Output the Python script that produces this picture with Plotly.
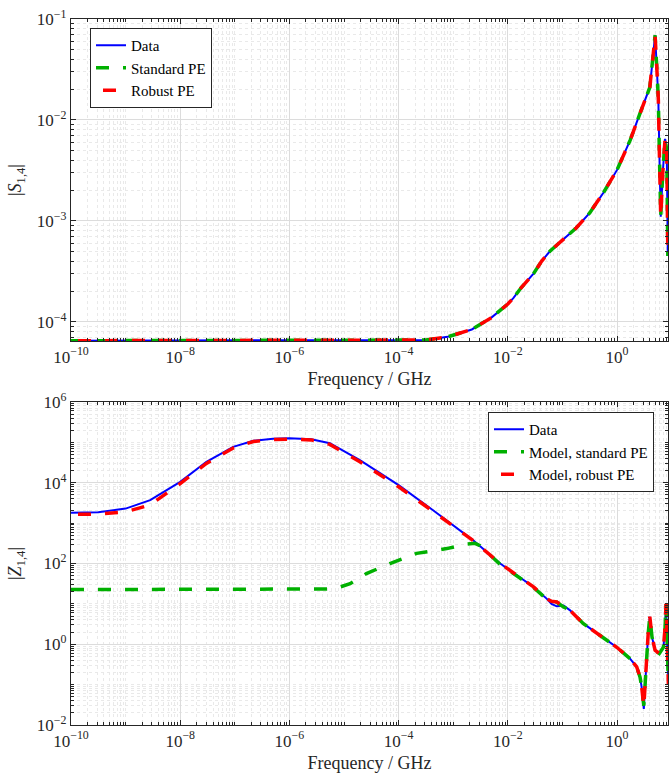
import plotly.graph_objects as go
from plotly.subplots import make_subplots

# ---------------- data ----------------
# top panel: |S_1,4| versus frequency (GHz)
s14_freq = [1e-10, 1e-8, 1e-6, 1e-4, 3.16e-4, 7.9e-4, 2.19e-3, 5.0e-3, 1.0e-2,
            1.26e-2, 1.78e-2, 2.95e-2, 4.17e-2, 5.89e-2, 0.1, 0.178, 0.316, 0.562,
            1.0, 1.74, 2.63, 3.98, 4.62, 4.97, 5.33, 5.70, 5.94, 6.31, 6.85, 7.57,
            8.13, 8.51]
s14_data = [6.5e-5, 6.5e-5, 6.5e-5, 6.5e-5, 6.6e-5, 7.1e-5, 8.4e-5, 1.1e-4, 1.5e-4,
            1.72e-4, 2.2e-4, 3.0e-4, 4.0e-4, 5.0e-4, 6.5e-4, 8.5e-4, 1.2e-3, 1.9e-3,
            3.2e-3, 6.3e-3, 1.16e-2, 2.1e-2, 4.6e-2, 6.9e-2, 3.4e-2, 1.6e-2, 5.0e-3,
            1.1e-3, 2.9e-3, 6.5e-3, 5.0e-3, 4.5e-4]
s14_standard = list(s14_data)
s14_robust = list(s14_data)

# bottom panel: |Z_1,4| versus frequency (GHz)
z14_freq = [1e-10, 3.16e-10, 1e-9, 2.82e-9, 1e-8, 3.02e-8, 9.33e-8, 2.19e-7,
            5.01e-7, 1e-6, 2.51e-6, 5.5e-6, 1.95e-5, 1e-4, 4.27e-4, 2.29e-3,
            7.24e-3, 2.95e-2, 5.13e-2, 6.31e-2, 7.85e-2, 0.105, 0.138, 0.242,
            0.49, 1.0, 1.73, 2.29, 2.63, 2.82, 3.09, 3.27, 3.47, 3.72, 3.98,
            4.37, 4.97, 5.94, 7.08, 7.59, 7.89, 8.47, 8.71]
z14_data = [1800, 1860, 2290, 3700, 10500, 33000, 77600, 110000,
            123000, 126000, 120000, 95500, 36300, 8700, 2090, 380,
            100, 26.3, 13.5, 10.0, 8.7, 9.1, 6.9, 3.24,
            1.66, 0.83, 0.44, 0.275, 0.155, 0.087, 0.025, 0.13, 0.40, 1.86, 4.8,
            1.5, 0.71, 0.59, 0.85, 2.7, 10.0, 0.40, 0.10]
z14_robust = [1640, 1680, 1900, 2820, 9550, 30200, 72400, 105000,
              117000, 120000, 115000, 89000, 33100, 7940, 1950, 372,
              100, 26.3, 13.5, 11.6, 11.2, 8.5, 6.9, 3.24,
              1.66, 0.83, 0.44, 0.275, 0.155, 0.09, 0.028, 0.14, 0.40, 1.86, 4.8,
              1.5, 0.71, 0.59, 0.85, 2.7, 10.0, 0.40, 0.10]
z14_std_freq = [1e-10, 1e-8, 1e-6, 2.51e-6, 5.01e-6, 8.51e-6, 1.29e-5, 2.57e-5,
                6.92e-5, 2.14e-4, 7.59e-4, 1.78e-3, 2.51e-3, 3.09e-3, 7.24e-3,
                2.95e-2, 5.13e-2, 6.31e-2, 7.85e-2, 0.105, 0.138, 0.242,
                0.49, 1.0, 1.73, 2.29, 2.63, 2.82, 3.09, 3.27, 3.47, 3.72, 3.98,
                4.37, 4.97, 5.94, 7.08, 7.59, 7.89, 8.47, 8.71]
z14_standard = [22.6, 22.6, 22.6, 22.6, 23.4, 26.3, 31.6, 56.2,
                100, 178, 234, 302, 316, 275, 95,
                25.5, 13.2, 11.4, 11.0, 8.4, 6.9, 3.24,
                1.66, 0.83, 0.44, 0.275, 0.155, 0.09, 0.03, 0.14, 0.40, 1.86, 4.8,
                1.5, 0.71, 0.59, 0.85, 2.7, 10.0, 0.40, 0.10]

x_tickvals = [1e-10, 1e-8, 1e-6, 1e-4, 1e-2, 1e0]
x_ticktext = ["10<sup>\u221210</sup>", "10<sup>\u22128</sup>", "10<sup>\u22126</sup>",
              "10<sup>\u22124</sup>", "10<sup>\u22122</sup>", "10<sup>0</sup>"]
ys_tickvals = [1e-4, 1e-3, 1e-2, 1e-1]
ys_ticktext = ["10<sup>\u22124</sup>", "10<sup>\u22123</sup>", "10<sup>\u22122</sup>",
               "10<sup>\u22121</sup>"]
yz_tickvals = [1e-2, 1e0, 1e2, 1e4, 1e6]
yz_ticktext = ["10<sup>\u22122</sup>", "10<sup>0</sup>", "10<sup>2</sup>",
               "10<sup>4</sup>", "10<sup>6</sup>"]

# ---------------- styling ----------------
FONT = "Liberation Serif"
AX = "#262626"
BLUE, GREEN, RED = "#0000ff", "#00b000", "#ff0000"
DASH_G = "13px,14px"
DASH_R = "0px,7px,13px,7px"
MINOR_GRID = "#e9e9e9"
MAJOR_GRID = "#dcdcdc"


def minor_vals(lo, hi, skip):
    vals = []
    for k in range(lo, hi + 1):
        for m in range(1, 10):
            v = m * 10.0 ** k
            if m == 1 and k in skip:
                continue
            vals.append(v)
    return vals


fig = make_subplots(rows=2, cols=1, vertical_spacing=0.0)

# top traces
fig.add_trace(go.Scatter(x=s14_freq, y=s14_data, mode="lines", name="Data",
                         line=dict(color=BLUE, width=2), legend="legend"), row=1, col=1)
fig.add_trace(go.Scatter(x=s14_freq, y=s14_standard, mode="lines", name="Standard PE",
                         line=dict(color=GREEN, width=3.5, dash=DASH_G), legend="legend"),
              row=1, col=1)
fig.add_trace(go.Scatter(x=s14_freq, y=s14_robust, mode="lines", name="Robust PE",
                         line=dict(color=RED, width=3.5, dash=DASH_R), legend="legend"),
              row=1, col=1)

# bottom traces
fig.add_trace(go.Scatter(x=z14_freq, y=z14_data, mode="lines", name="Data",
                         line=dict(color=BLUE, width=2), legend="legend2"), row=2, col=1)
fig.add_trace(go.Scatter(x=z14_std_freq, y=z14_standard, mode="lines",
                         name="Model, standard PE",
                         line=dict(color=GREEN, width=3.5, dash=DASH_G), legend="legend2"),
              row=2, col=1)
fig.add_trace(go.Scatter(x=z14_freq, y=z14_robust, mode="lines",
                         name="Model, robust PE",
                         line=dict(color=RED, width=3.5, dash=DASH_R), legend="legend2"),
              row=2, col=1)

common_axis = dict(
    type="log", showline=True, linecolor=AX, linewidth=1.2, mirror="ticks",
    ticks="inside", ticklen=5, tickwidth=1, tickcolor=AX,
    showgrid=True, gridcolor=MAJOR_GRID, gridwidth=1, zeroline=False,
    tickfont=dict(family=FONT, size=17, color=AX),
)

x_minor = dict(tickvals=minor_vals(-10, 0, skip=[-10, -8, -6, -4, -2, 0]),
               ticks="inside", ticklen=3, tickcolor=AX, showgrid=True,
               gridcolor=MINOR_GRID, griddash="dot", gridwidth=1)

for r in (1, 2):
    fig.update_xaxes(**common_axis, range=[-10, 0.933], tickmode="array",
                     tickvals=x_tickvals, ticktext=x_ticktext, minor=x_minor,
                     title=dict(text="Frequency / GHz",
                                font=dict(family=FONT, size=18, color=AX), standoff=6),
                     row=r, col=1)

fig.update_yaxes(**common_axis, range=[-4.19, -1], tickmode="array",
                 tickvals=ys_tickvals, ticktext=ys_ticktext,
                 minor=dict(tickvals=minor_vals(-5, -2, skip=[-4, -3, -2, -1]),
                            ticks="inside", ticklen=3, tickcolor=AX, showgrid=True,
                            gridcolor=MINOR_GRID, griddash="dot", gridwidth=1),
                 title=dict(text="|<i>S</i><sub>1,4</sub>|",
                            font=dict(family=FONT, size=18, color=AX), standoff=10),
                 row=1, col=1)
fig.update_yaxes(**common_axis, range=[-2, 6], tickmode="array",
                 tickvals=yz_tickvals, ticktext=yz_ticktext,
                 minor=dict(tickvals=minor_vals(-2, 5, skip=[-2, 0, 2, 4, 6]),
                            ticks="inside", ticklen=3, tickcolor=AX, showgrid=True,
                            gridcolor=MINOR_GRID, griddash="dot", gridwidth=1),
                 title=dict(text="|<i>Z</i><sub>1,4</sub>|",
                            font=dict(family=FONT, size=18, color=AX), standoff=10),
                 row=2, col=1)

W, H = 669, 773
ml, mr, mt, mb = 71, 1, 19, 48
ph = H - mt - mb
fig.update_layout(
    width=W, height=H,
    margin=dict(l=ml, r=mr, t=mt, b=mb, autoexpand=False),
    paper_bgcolor="white", plot_bgcolor="white",
    font=dict(family=FONT, color=AX),
    xaxis=dict(domain=[0, 1]), xaxis2=dict(domain=[0, 1]),
    yaxis=dict(domain=[(H - mb - 341) / ph, 1]),
    yaxis2=dict(domain=[0, (H - mb - 402) / ph]),
    legend=dict(x=(90 - ml) / (W - ml - mr), y=(H - mb - 28) / ph,
                xanchor="left", yanchor="top", bgcolor="white",
                bordercolor=AX, borderwidth=1, itemwidth=30, tracegroupgap=0,
                font=dict(family=FONT, size=15, color="black")),
    legend2=dict(x=(488 - ml) / (W - ml - mr), y=(H - mb - 412) / ph,
                 xanchor="left", yanchor="top", bgcolor="white",
                 bordercolor=AX, borderwidth=1, itemwidth=30, tracegroupgap=0,
                 font=dict(family=FONT, size=15, color="black")),
    showlegend=True,
)

fig.write_html("out.html",
               config={"displayModeBar": False},
               post_script="document.body.style.margin='0';"
                           "document.body.style.overflow='hidden';")
